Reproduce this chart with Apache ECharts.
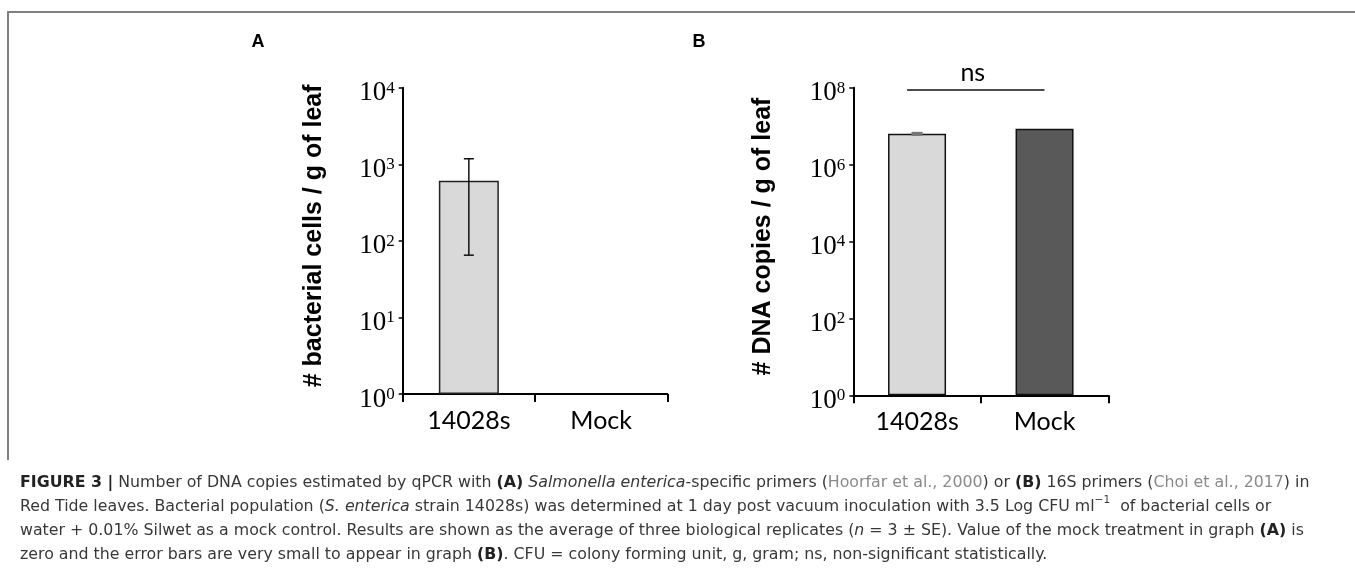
<!DOCTYPE html>
<html>
<head>
<meta charset="utf-8">
<script src="https://cdn.jsdelivr.net/npm/echarts@6/dist/echarts.min.js"></script>
<style>
  html, body { margin: 0; padding: 0; background: #fff; }
  #main { width: 1355px; height: 569px; }
</style>
</head>
<body>
<div id="main"></div>
<script>
// categories shared by both panels
var categories = ['14028s', 'Mock'];

// panel A: bacterial cells / g of leaf (Mock is zero)
var cellsMean = [610, 0];
var cellsLow = [65, 0];
var cellsHigh = [1180, 0];

// panel B: DNA copies / g of leaf
var copiesMean = [6.3e6, 8.6e6];
var copiesLow = [6.0e6, 0];
var copiesHigh = [6.6e6, 0];
var copiesColors = ['#d9d9d9', '#595959'];

// significance bracket between the two B bars
var nsLevel = 8.7e7;
var nsText = 'ns';

var chart = echarts.init(document.getElementById('main'));

var serif = 'Liberation Serif';
var sans = 'Lato';
var capFont = 'DejaVu Sans';
var capSize = 15.8;

function powerLabel(v) {
  var e = Math.round(Math.log10(v));
  return '{b|10}{s|' + e + '}';
}

var tickRich = {
  b: { fontFamily: serif, fontSize: 27, color: '#000', padding: [11, 0, 0, 0] },
  s: { fontFamily: serif, fontSize: 17, color: '#000', lineHeight: 17, verticalAlign: 'top', padding: [11, 0, 0, 0] }
};

function errData(lo, hi) {
  var out = [];
  for (var i = 0; i < lo.length; i++) {
    if (lo[i] > 0 && hi[i] > 0) out.push([i, lo[i], hi[i]]);
  }
  return out;
}

function errorBars(color, width, half) {
  return function (params, api) {
    var x = api.value(0);
    var lo = api.coord([x, api.value(1)]);
    var hi = api.coord([x, api.value(2)]);
    var st = { stroke: color, lineWidth: width };
    return {
      type: 'group',
      children: [
        { type: 'line', shape: { x1: lo[0], y1: lo[1], x2: hi[0], y2: hi[1] }, style: st },
        { type: 'line', shape: { x1: lo[0] - half, y1: lo[1], x2: lo[0] + half, y2: lo[1] }, style: st },
        { type: 'line', shape: { x1: hi[0] - half, y1: hi[1], x2: hi[0] + half, y2: hi[1] }, style: st }
      ]
    };
  };
}

function logNonZero(arr) {
  return arr.map(function (v) { return v > 0 ? v : '-'; });
}

var axisLine = { show: true, lineStyle: { color: '#000', width: 2 } };

function catAxis(idx) {
  return {
    type: 'category', gridIndex: idx, data: categories,
    axisLine: axisLine,
    axisTick: { show: true, length: 8, lineStyle: { color: '#000', width: 2 } },
    axisLabel: { fontFamily: sans, fontSize: 25, color: '#000', margin: 14 }
  };
}

function logAxis(idx, base, max, title, gap) {
  return {
    type: 'log', gridIndex: idx, logBase: base, min: 1, max: max,
    name: title, nameLocation: 'middle', nameGap: gap,
    nameTextStyle: { fontFamily: 'Liberation Sans', fontWeight: 'bold', fontSize: 25, color: '#000', padding: [0, 0, 0, 10] },
    axisLine: axisLine,
    axisTick: { show: true, length: 4, lineStyle: { color: '#000', width: 1.5 } },
    splitLine: { show: false },
    axisLabel: { margin: 8, formatter: powerLabel, rich: tickRich }
  };
}

function capStyle(extra) {
  var s = { fontFamily: capFont, fontSize: capSize, lineHeight: 24, fill: '#383838' };
  for (var k in extra) s[k] = extra[k];
  return s;
}

chart.setOption({
  backgroundColor: '#fff',
  animation: false,
  grid: [
    { left: 402.7, top: 87.7, width: 264.6, height: 306.3 },
    { left: 853.3, top: 87.7, width: 255, height: 307.6 }
  ],
  xAxis: [catAxis(0), catAxis(1)],
  yAxis: [
    logAxis(0, 10, 1e4, '# bacterial cells / g of leaf', 76),
    logAxis(1, 100, 1e8, '# DNA copies / g of leaf', 78)
  ],
  series: [
    {
      type: 'bar', xAxisIndex: 0, yAxisIndex: 0, barWidth: 60,
      data: logNonZero(cellsMean),
      itemStyle: { color: '#d9d9d9', borderColor: '#222', borderWidth: 1.5 }
    },
    {
      type: 'custom', xAxisIndex: 0, yAxisIndex: 0,
      renderItem: errorBars('#111', 1.5, 5),
      encode: { x: 0, y: [1, 2] },
      data: errData(cellsLow, cellsHigh), z: 5
    },
    {
      type: 'bar', xAxisIndex: 1, yAxisIndex: 1, barWidth: 58,
      data: copiesMean.map(function (v, i) {
        return { value: v, itemStyle: { color: copiesColors[i] } };
      }),
      itemStyle: { borderColor: '#111', borderWidth: 1.5 }
    },
    {
      type: 'custom', xAxisIndex: 1, yAxisIndex: 1,
      renderItem: errorBars('#777', 2.5, 5.5),
      encode: { x: 0, y: [1, 2] },
      data: errData(copiesLow, copiesHigh), z: 5
    },
    {
      type: 'custom', xAxisIndex: 1, yAxisIndex: 1,
      encode: { x: [0, 1], y: 2 },
      data: [[0, 1, nsLevel]],
      renderItem: function (params, api) {
        var a = api.coord([api.value(0), api.value(2)]);
        var b = api.coord([api.value(1), api.value(2)]);
        var x1 = a[0] - 10;
        return {
          type: 'group',
          children: [
            { type: 'line', shape: { x1: x1, y1: a[1], x2: b[0], y2: b[1] }, style: { stroke: '#111', lineWidth: 1.5 } },
            {
              type: 'text', x: (x1 + b[0]) / 2 - 3, y: a[1] - 17,
              style: { text: nsText, fontFamily: sans, fontSize: 25, fill: '#000', align: 'center', verticalAlign: 'middle' }
            }
          ]
        };
      }
    }
  ],
  graphic: [
    // frame around the figure
    {
      type: 'polyline', silent: true,
      shape: { points: [[1355, 12], [8, 12], [8, 460]] },
      style: { stroke: '#808080', lineWidth: 2, fill: null }
    },
    {
      type: 'text', x: 258, y: 42.5,
      style: { text: 'A', font: 'bold 18px "Liberation Sans"', fill: '#000', align: 'center', verticalAlign: 'middle' }
    },
    {
      type: 'text', x: 699, y: 42.5,
      style: { text: 'B', font: 'bold 18px "Liberation Sans"', fill: '#000', align: 'center', verticalAlign: 'middle' }
    },
    {
      type: 'text', x: 20, y: 471,
      style: {
        text: [
          '{b|FIGURE 3 |} Number of DNA copies estimated by qPCR with {b|(A)} {i|Salmonella enterica}-specific primers ({r|Hoorfar et al., 2000}) or {b|(B)} 16S primers ({r|Choi et al., 2017}) in',
          'Red Tide leaves. Bacterial population ({i|S. enterica} strain 14028s) was determined at 1 day post vacuum inoculation with 3.5 Log CFU ml{sup|\u22121}  of bacterial cells or',
          'water + 0.01% Silwet as a mock control. Results are shown as the average of three biological replicates ({i|n} = 3 \u00b1 SE). Value of the mock treatment in graph {b|(A)} is',
          'zero and the error bars are very small to appear in graph {b|(B)}. CFU = colony forming unit, g, gram; ns, non-significant statistically.'
        ].join('\n'),
        fontFamily: capFont, fontSize: capSize, fill: '#383838', lineHeight: 24,
        rich: {
          b: capStyle({ fontWeight: 'bold', fill: '#222' }),
          i: capStyle({ fontStyle: 'italic' }),
          r: capStyle({ fill: '#8a8a8a' }),
          sup: capStyle({ fontSize: 10.5, lineHeight: 14, verticalAlign: 'top' })
        }
      }
    }
  ]
});
</script>
</body>
</html>
